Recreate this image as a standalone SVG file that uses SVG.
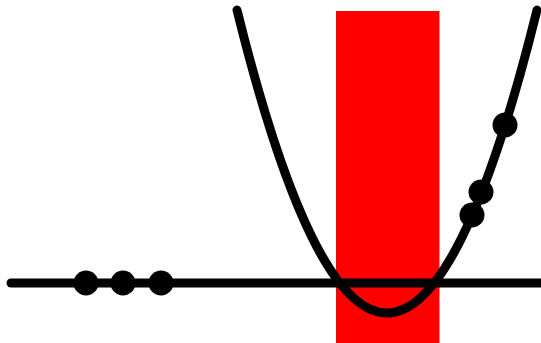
<svg xmlns="http://www.w3.org/2000/svg" width="541" height="343" viewBox="0 0 541 343">
<style>
.ln{fill:none;stroke:#000;stroke-width:9;stroke-linecap:round}
.dot{fill:#000}
</style>
<rect x="336" y="11" width="103.5" height="332" fill="#ff0000"/>
<line class="ln" x1="11" y1="283" x2="545" y2="283"/>
<path class="ln" d="M237,10 Q387,616 537,10"/>
<g id="dots-axis">
<circle class="dot" cx="86" cy="283" r="12.5"/>
<circle class="dot" cx="123" cy="283" r="12.5"/>
<circle class="dot" cx="161" cy="283" r="12.5"/>
</g>
<g id="dots-curve">
<circle class="dot" cx="505" cy="125" r="12.5"/>
<circle class="dot" cx="481" cy="192" r="12.5"/>
<circle class="dot" cx="472" cy="215" r="12.5"/>
</g>
</svg>
